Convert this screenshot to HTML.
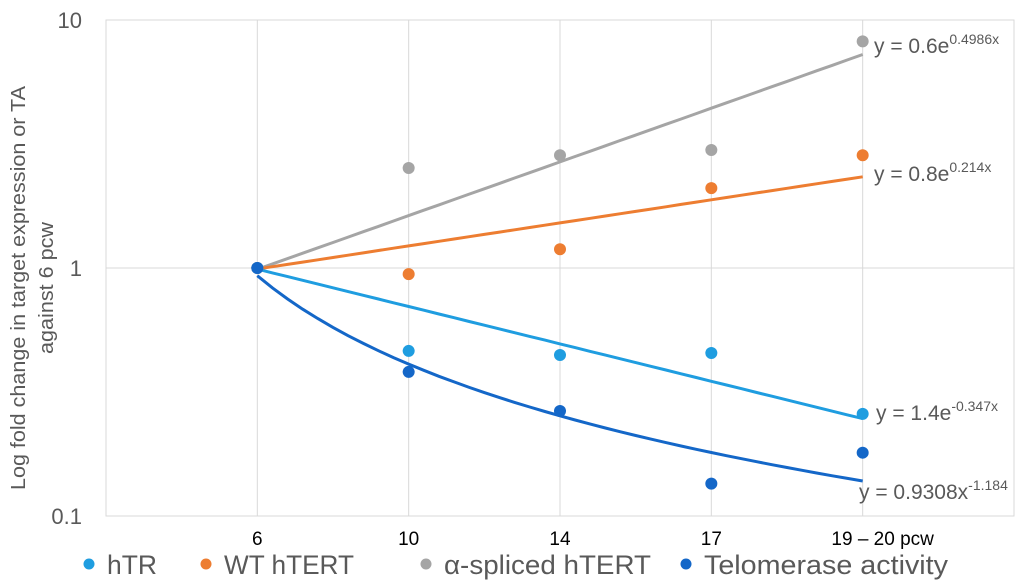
<!DOCTYPE html>
<html><head><meta charset="utf-8"><style>
html,body{margin:0;padding:0;background:#fff;}
svg{display:block;font-family:"Liberation Sans",sans-serif;}
</style></head><body>
<svg id="chart" width="1024" height="586"></svg>
<script>
const categories = ["6","10","14","17","19 – 20 pcw"];
const hTR = [1, 0.463, 0.446, 0.454, 0.258];
const wtHTERT = [1, 0.945, 1.19, 2.1, 2.85];
const alphaHTERT = [1, 2.53, 2.85, 2.99, 8.2];
const telomerase = [1, 0.381, 0.265, 0.135, 0.18];
const yTicks = [0.1, 1, 10];
const yTickLabels = ["0.1","1","10"];
const fits = {
  alpha:{a:0.6,b:0.4986,type:"exp",label:"y = 0.6e",sup:"0.4986x"},
  wt:{a:0.8,b:0.214,type:"exp",label:"y = 0.8e",sup:"0.214x"},
  htr:{a:1.4,b:-0.347,type:"exp",label:"y = 1.4e",sup:"-0.347x"},
  tel:{a:0.9308,b:-1.184,type:"pow",label:"y = 0.9308x",sup:"-1.184"}
};
const NS="http://www.w3.org/2000/svg";
const svg=document.getElementById('chart');
const X0=106,X1=1014,Y10=20,Y01=516;
const xS=i=>X0+(i+1)*(X1-X0)/6;
const yS=v=>Y10+(1-Math.log10(v))*(Y01-Y10)/2;
function mk(tag,attrs,parent){const e=document.createElementNS(NS,tag);for(const k in attrs)e.setAttribute(k,attrs[k]);(parent||svg).appendChild(e);return e;}
let g=mk('g',{});


let r=mk('rect',{x:X0,y:Y10,width:X1-X0,height:Y01-Y10,fill:'none',stroke:'#d9d9d9','stroke-width':1},g);


yTicks.forEach((t,i)=>{
  let l=mk('line',{x1:X0,x2:X1,y1:yS(t),y2:yS(t),stroke:'#d9d9d9'},g);
  
  
  let tx=mk('text',{x:82,y:yS(t)+8,'text-anchor':'end','font-size':22,fill:'#595959'});
  tx.textContent=yTickLabels[i];
  
  
});
categories.forEach((c,i)=>{
  let l=mk('line',{x1:xS(i),x2:xS(i),y1:Y10,y2:Y01,stroke:'#d9d9d9'},g);
  
  
  let tx=mk('text',{x:xS(i)+(i==4?20:0),y:545,'text-anchor':'middle','font-size':19,fill:'#000'});
  tx.textContent=c;
  
  
});
let at=mk('text',{transform:'translate(25,288) rotate(-90)','font-size':20,fill:'#595959'});


let t1=mk('tspan',{x:-202,y:0,textLength:404,lengthAdjust:'spacingAndGlyphs'},at);t1.textContent='Log fold change in target expression or TA';
let t2=mk('tspan',{x:-66,y:28,textLength:132,lengthAdjust:'spacingAndGlyphs'},at);t2.textContent='against 6 pcw';
const series=[
 {name:'alpha-spliced-htert',data:alphaHTERT,color:'#a5a5a5',fit:fits.alpha,ly:53,lx:874},
 {name:'wt-htert',data:wtHTERT,color:'#ed7d31',fit:fits.wt,ly:181,lx:874},
 {name:'htr',data:hTR,color:'#1f9de0',fit:fits.htr,ly:420,lx:876},
 {name:'telomerase-activity',data:telomerase,color:'#1467c8',fit:fits.tel,ly:499,lx:859}
];
series.forEach(s=>{
  const f=s.fit;const pts=[];
  for(let k=0;k<=40;k++){const x=1+k*0.1;const v=f.type=='exp'?f.a*Math.exp(f.b*x):f.a*Math.pow(x,f.b);pts.push(xS(x-1).toFixed(1)+','+yS(v).toFixed(1));}
  let pl=mk('polyline',{points:pts.join(' '),fill:'none',stroke:s.color,'stroke-width':3});
  
  
});
series.forEach(s=>{
  s.data.forEach((v,i)=>{
    let c=mk('circle',{cx:xS(i),cy:yS(v),r:6,fill:s.color});
    
    
  });
  let tx=mk('text',{x:s.lx,y:s.ly,'font-size':21,fill:'#595959'});
  
  
  let a=mk('tspan',{},tx);a.textContent=s.fit.label;
  let b=mk('tspan',{dy:-9,'font-size':14},tx);b.textContent=s.fit.sup;
});
const legend=[['hTR','#1f9de0',84,50],['WT hTERT','#ed7d31',201,130],['α-spliced hTERT','#a5a5a5',421,207],['Telomerase activity','#1467c8',681,244]];
legend.forEach(l=>{
  let gg=mk('g',{});
  
  
  mk('circle',{cx:l[2]+5,cy:564,r:5.5,fill:l[1]},gg);
  let tx=mk('text',{x:l[2]+23,y:574,'font-size':27,fill:'#595959',textLength:l[3],lengthAdjust:'spacingAndGlyphs'},gg);tx.textContent=l[0];
});
</script>
</body></html>
